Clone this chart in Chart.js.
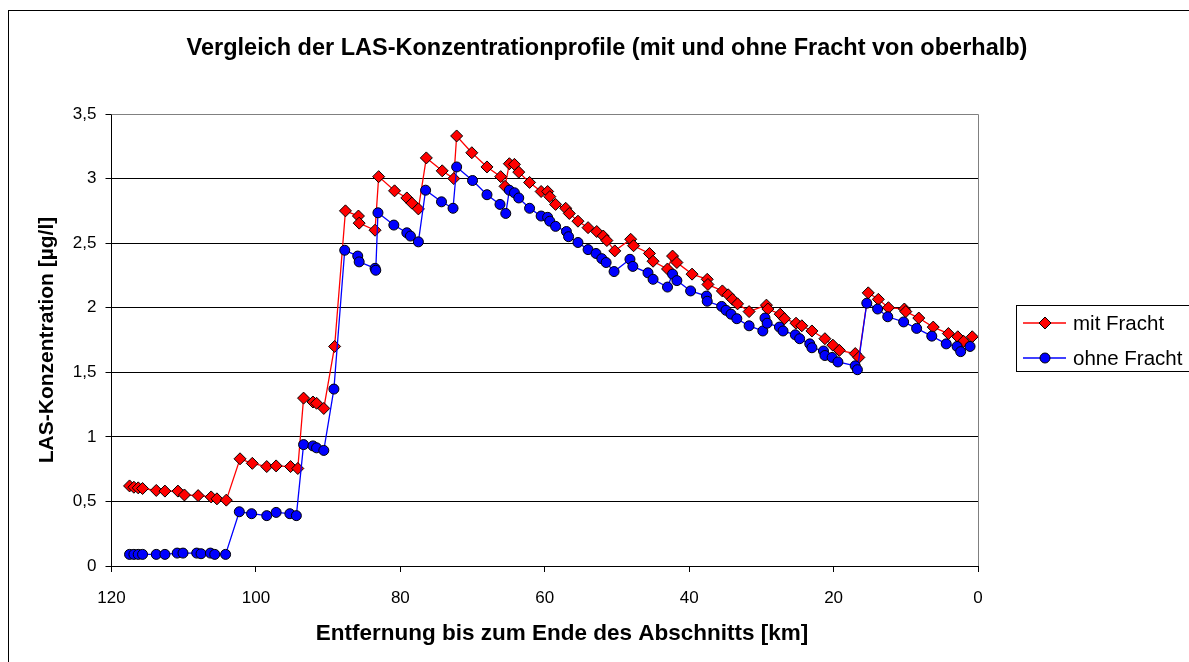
<!DOCTYPE html>
<html>
<head>
<meta charset="utf-8">
<script src="https://cdn.jsdelivr.net/npm/chart.js@4/dist/chart.umd.min.js"></script>
<style>
    html, body { margin: 0; padding: 0; background: #fff; }
    #wrap { width: 1189px; height: 662px; position: relative; }
</style>
</head>
<body>
<div id="wrap"><canvas id="lasChart" width="1189" height="662"></canvas></div>
<script>
// Data
const chartTitle = 'Vergleich der LAS-Konzentrationprofile (mit und ohne Fracht von oberhalb)';
const xTitle = 'Entfernung bis zum Ende des Abschnitts [km]';
const yTitle = 'LAS-Konzentration [µg/l]';
const seriesNames = ['mit Fracht', 'ohne Fracht'];

const kmMit = [117.5, 116.9, 116.3, 115.7, 113.8, 112.6, 110.8, 109.9, 108.0, 106.2, 105.4, 104.1,
    102.2, 100.5, 98.5, 97.2, 95.2, 94.2, 93.4, 92.1, 91.6, 90.6, 89.1, 87.6, 85.8, 85.7, 83.5,
    83.0, 80.8, 79.1, 78.4, 77.5, 76.4, 74.2, 72.6, 72.2, 70.1, 68.0, 66.1, 65.5, 64.9, 64.2,
    63.6, 62.1, 60.5, 59.6, 59.3, 58.5, 57.1, 56.6, 55.4, 54.0, 52.8, 51.9, 51.4, 50.3, 48.1,
    47.7, 45.5, 45.0, 43.0, 42.3, 41.7, 39.6, 37.5, 37.4, 35.4, 34.6, 34.0, 33.3, 31.7, 29.3,
    29.1, 27.4, 26.8, 25.2, 24.4, 23.0, 21.2, 20.1, 19.2, 17.0, 16.5, 15.2, 13.8, 12.4, 10.2,
    10.0, 8.2, 6.2, 4.1, 2.8, 2.0, 0.8];
const mitFracht = [0.62, 0.61, 0.605, 0.60, 0.585, 0.58, 0.58, 0.55, 0.545, 0.535, 0.52, 0.51,
    0.83, 0.795, 0.77, 0.775, 0.77, 0.755, 1.30, 1.27, 1.26, 1.22, 1.70, 2.75, 2.71, 2.655, 2.60,
    3.015, 2.905, 2.85, 2.81, 2.765, 3.16, 3.06, 3.00, 3.33, 3.20, 3.09, 3.015, 2.94, 3.115, 3.11,
    3.05, 2.97, 2.90, 2.90, 2.86, 2.80, 2.77, 2.73, 2.67, 2.62, 2.59, 2.555, 2.52, 2.44, 2.53,
    2.48, 2.42, 2.36, 2.30, 2.40, 2.35, 2.26, 2.22, 2.18, 2.13, 2.10, 2.065, 2.03, 1.97, 2.02,
    1.99, 1.95, 1.915, 1.88, 1.86, 1.82, 1.76, 1.71, 1.67, 1.645, 1.615, 2.115, 2.065, 2.00, 1.99,
    1.97, 1.92, 1.85, 1.80, 1.775, 1.74, 1.775];

const kmOhne = [117.5, 116.9, 116.3, 115.7, 113.8, 112.6, 110.9, 110.1, 108.2, 107.6, 106.3, 105.7,
    104.2, 102.3, 100.6, 98.5, 97.2, 95.3, 94.4, 93.4, 92.1, 91.6, 90.6, 89.2, 87.7, 85.9, 85.7,
    83.5, 83.4, 83.1, 80.9, 79.1, 78.6, 77.5, 76.5, 74.3, 72.7, 72.2, 70.0, 68.0, 66.2, 65.4,
    64.9, 64.2, 63.6, 62.1, 60.5, 59.6, 59.3, 58.5, 57.0, 56.7, 55.4, 54.0, 52.9, 52.1, 51.5,
    50.4, 48.2, 47.8, 45.7, 45.0, 43.0, 42.3, 41.7, 39.8, 37.6, 37.5, 35.5, 34.9, 34.2, 33.4,
    31.7, 29.8, 29.5, 29.2, 27.5, 27.0, 25.3, 24.7, 23.3, 23.0, 21.4, 21.2, 20.2, 19.4, 17.0,
    16.7, 15.4, 13.9, 12.5, 10.3, 8.5, 6.4, 4.4, 2.9, 2.4, 1.1];
const ohneFracht = [0.09, 0.09, 0.09, 0.09, 0.09, 0.09, 0.10, 0.10, 0.10, 0.095, 0.10, 0.09,
    0.09, 0.42, 0.405, 0.39, 0.415, 0.405, 0.39, 0.94, 0.93, 0.915, 0.895, 1.37, 2.445, 2.40, 2.355,
    2.305, 2.29, 2.735, 2.64, 2.58, 2.555, 2.51, 2.91, 2.82, 2.77, 3.09, 2.985, 2.875, 2.80, 2.73,
    2.91, 2.89, 2.85, 2.77, 2.71, 2.70, 2.67, 2.63, 2.59, 2.55, 2.505, 2.45, 2.42, 2.38, 2.35,
    2.28, 2.375, 2.32, 2.27, 2.22, 2.16, 2.26, 2.21, 2.13, 2.09, 2.05, 2.01, 1.98, 1.95, 1.915,
    1.86, 1.82, 1.92, 1.88, 1.85, 1.82, 1.79, 1.76, 1.72, 1.69, 1.665, 1.63, 1.615, 1.58, 1.55,
    1.52, 2.035, 1.99, 1.93, 1.89, 1.84, 1.78, 1.72, 1.70, 1.66, 1.70];

const xTicks = [0, 20, 40, 60, 80, 100, 120];
const yTicks = [0, 0.5, 1, 1.5, 2, 2.5, 3, 3.5];

const FONT = '"Liberation Sans", Arial, sans-serif';

function toPoints(xs, ys) {
    return xs.map((x, i) => ({ x: x, y: ys[i] }));
}

// Frame, titles and Excel-style legend
const decorPlugin = {
    id: 'decor',
    beforeDraw(chart) {
        const ctx = chart.ctx;
        ctx.save();
        ctx.fillStyle = '#fff';
        ctx.fillRect(0, 0, chart.width, chart.height);
        ctx.strokeStyle = '#000';
        ctx.lineWidth = 1;
        ctx.strokeRect(8.5, 10.5, 1200, 700);
        ctx.restore();
    },
    afterDraw(chart) {
        const ctx = chart.ctx;
        const area = chart.chartArea;
        ctx.save();
        // plot area border (top/right)
        ctx.strokeStyle = '#808080';
        ctx.lineWidth = 1;
        ctx.beginPath();
        ctx.moveTo(area.left, area.top + 0.5);
        ctx.lineTo(area.right + 0.5, area.top + 0.5);
        ctx.lineTo(area.right + 0.5, area.bottom);
        ctx.stroke();

        ctx.fillStyle = '#000';
        ctx.textAlign = 'center';
        ctx.textBaseline = 'middle';

        // chart title
        ctx.font = 'bold 23.5px ' + FONT;
        ctx.fillText(chartTitle, 607, 49);

        // axis titles
        ctx.font = 'bold 22.5px ' + FONT;
        ctx.fillText(xTitle, 562, 634);
        ctx.font = 'bold 21px ' + FONT;
        ctx.save();
        ctx.translate(47, 340);
        ctx.rotate(-Math.PI / 2);
        ctx.fillText(yTitle, 0, 0);
        ctx.restore();

        // legend
        ctx.strokeStyle = '#000';
        ctx.lineWidth = 1;
        ctx.strokeRect(1016.5, 305.5, 200, 66);
        const rows = [323, 358];
        chart.data.datasets.forEach((ds, i) => {
            const y = rows[i];
            ctx.strokeStyle = ds.borderColor;
            ctx.lineWidth = 1.3;
            ctx.beginPath();
            ctx.moveTo(1023, y);
            ctx.lineTo(1066, y);
            ctx.stroke();
            ctx.lineWidth = 1;
            ctx.fillStyle = ds.pointBackgroundColor;
            ctx.strokeStyle = '#000';
            ctx.beginPath();
            if (ds.pointStyle === 'rectRot') {
                ctx.moveTo(1045, y - 6);
                ctx.lineTo(1051, y);
                ctx.lineTo(1045, y + 6);
                ctx.lineTo(1039, y);
                ctx.closePath();
            } else {
                ctx.arc(1045, y, 5, 0, Math.PI * 2);
            }
            ctx.fill();
            ctx.stroke();
            ctx.fillStyle = '#000';
            ctx.font = '20.5px ' + FONT;
            ctx.textAlign = 'left';
            ctx.fillText(ds.label, 1073, y + 1);
        });
        ctx.restore();
    }
};

const ctx = document.getElementById('lasChart').getContext('2d');
new Chart(ctx, {
    type: 'line',
    data: {
        datasets: [{
            label: seriesNames[0],
            data: toPoints(kmMit, mitFracht),
            borderColor: '#ff0000',
            backgroundColor: '#ff0000',
            borderWidth: 1.3,
            pointStyle: 'rectRot',
            pointRadius: 6,
            pointBackgroundColor: '#ff0000',
            pointBorderColor: '#000',
            pointBorderWidth: 1,
            tension: 0,
            order: 1
        }, {
            label: seriesNames[1],
            data: toPoints(kmOhne, ohneFracht),
            borderColor: '#0000ff',
            backgroundColor: '#0000ff',
            borderWidth: 1.3,
            pointStyle: 'circle',
            pointRadius: 5,
            pointBackgroundColor: '#0000ff',
            pointBorderColor: '#000',
            pointBorderWidth: 1,
            tension: 0,
            order: 0
        }]
    },
    options: {
        responsive: false,
        animation: false,
        events: [],
        layout: {
            padding: { left: 10, top: 114, right: 211, bottom: 10 }
        },
        plugins: {
            legend: { display: false },
            title: { display: false },
            tooltip: { enabled: false }
        },
        scales: {
            x: {
                type: 'linear',
                reverse: true,
                min: 0,
                max: 120,
                afterBuildTicks: scale => { scale.ticks = xTicks.map(v => ({ value: v })); },
                afterFit: scale => { scale.height = 86; },
                grid: {
                    display: true,
                    drawOnChartArea: false,
                    drawTicks: true,
                    tickLength: 6,
                    color: '#000'
                },
                border: { color: '#000', width: 1 },
                ticks: {
                    color: '#000',
                    padding: 16,
                    maxRotation: 0,
                    font: { family: FONT, size: 17 }
                }
            },
            y: {
                min: 0,
                max: 3.5,
                afterBuildTicks: scale => { scale.ticks = yTicks.map(v => ({ value: v })); },
                afterFit: scale => { scale.width = 101.5; },
                grid: {
                    color: '#000',
                    lineWidth: 1,
                    drawTicks: true,
                    tickLength: 6
                },
                border: { color: '#000', width: 1 },
                ticks: {
                    color: '#000',
                    padding: 9,
                    font: { family: FONT, size: 17 },
                    callback: v => String(v).replace('.', ',')
                }
            }
        }
    },
    plugins: [decorPlugin]
});
</script>
</body>
</html>
